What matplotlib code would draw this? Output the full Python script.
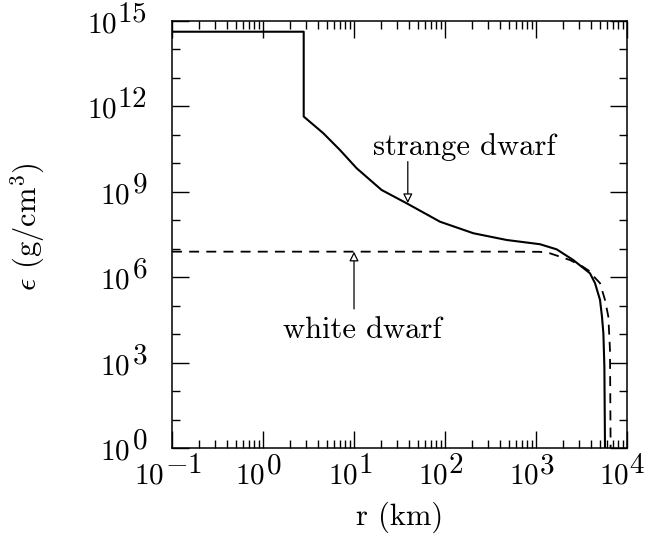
import numpy as np
import matplotlib
matplotlib.use("Agg")
import matplotlib.pyplot as plt
from matplotlib.ticker import FixedLocator, LogLocator, NullFormatter
from matplotlib.textpath import TextPath
from matplotlib.font_manager import FontProperties

plt.rcParams['font.family'] = 'serif'
plt.rcParams['font.serif'] = ['cmr10']
plt.rcParams['mathtext.fontset'] = 'cm'
plt.rcParams['axes.formatter.use_mathtext'] = True
plt.rcParams['axes.unicode_minus'] = False

# strange dwarf profile (r in km, eps in g/cm^3)
strange_r = [0.1, 2.8, 2.8, 4.6, 7.0, 10.7, 20.1, 37.9, 88.1, 205, 476, 1107,
             1690, 2570, 3920, 4450, 5050, 5310, 5500, 5640, 5730]
strange_eps = [4.2e14, 4.2e14, 4.4e11, 1.14e11, 2.95e10, 6.7e9, 1.16e9, 3.95e8,
               8.9e7, 3.5e7, 2.03e7, 1.44e7, 9.5e6, 4.0e6, 1.37e6, 6.2e5,
               1.6e5, 4.1e4, 1.07e4, 7.2e2, 1.0]

# white dwarf profile
white_r = [0.1, 1, 10, 100, 500, 1107, 1426, 2366, 3162, 3917, 4266, 5047,
           5728, 6237, 6501, 6607]
white_eps = [7.9e6, 7.9e6, 7.9e6, 7.9e6, 7.9e6, 7.8e6, 6.9e6, 4.0e6, 2.5e6,
             1.6e6, 1.1e6, 6.2e5, 1.6e5, 4.1e4, 2.75e3, 1.0]

x_major_exp = [-1, 0, 1, 2, 3, 4]
y_major_exp = [0, 3, 6, 9, 12, 15]

TICK_FS = 21
TEXT_FS = 22

fig = plt.figure(figsize=(6.45, 5.37), dpi=100)
ax = fig.add_axes([0.2667, 0.1657, 0.7054, 0.7952])

ax.plot(strange_r, strange_eps, color='black', lw=1.5)
ax.plot(white_r, white_eps, color='black', lw=1.3, dashes=(5.5, 4.0))

ax.set_xscale('log')
ax.set_yscale('log')
ax.set_xlim(0.1, 1e4)
ax.set_ylim(1, 1e15)

ax.yaxis.set_major_locator(FixedLocator([10.0**e for e in y_major_exp]))
ax.yaxis.set_minor_locator(FixedLocator([10.0**e for e in range(0, 16)]))
ax.yaxis.set_minor_formatter(NullFormatter())
ax.xaxis.set_major_locator(FixedLocator([10.0**e for e in x_major_exp]))
ax.xaxis.set_minor_locator(LogLocator(base=10, subs=np.arange(2, 10), numticks=20))
ax.xaxis.set_minor_formatter(NullFormatter())

ax.tick_params(which='both', direction='in', top=True, right=True, width=1.0,
               labelbottom=False, labelleft=False)
ax.tick_params(which='major', length=12.5)
ax.tick_params(which='minor', length=5.5)
for s in ax.spines.values():
    s.set_linewidth(1.1)

# tick labels in "10" + full-size exponent style
fp = FontProperties(family='serif', size=TICK_FS)


def text_width(s):
    return TextPath((0, 0), s, prop=fp).get_extents().width


w10 = text_width(r'$10$')
gap = 3.5
for e in y_major_exp:
    es = r'$%d$' % e
    we = text_width(es)
    ax.annotate(es, xy=(0, 10.0**e), xycoords=('axes fraction', 'data'),
                xytext=(-18, -0.5), textcoords='offset points',
                ha='right', va='baseline', fontsize=TICK_FS)
    ax.annotate(r'$10$', xy=(0, 10.0**e), xycoords=('axes fraction', 'data'),
                xytext=(-18 - we - gap, -8.2), textcoords='offset points',
                ha='right', va='baseline', fontsize=TICK_FS)

for e in x_major_exp:
    es = r'$%d$' % e
    we = text_width(es)
    total = w10 + gap + we
    left = -4.5 - total / 2
    ax.annotate(r'$10$', xy=(10.0**e, 0), xycoords=('data', 'axes fraction'),
                xytext=(left, -25.2), textcoords='offset points',
                ha='left', va='baseline', fontsize=TICK_FS)
    ax.annotate(es, xy=(10.0**e, 0), xycoords=('data', 'axes fraction'),
                xytext=(left + w10 + gap, -18.0), textcoords='offset points',
                ha='left', va='baseline', fontsize=TICK_FS)

ax.set_xlabel('r (km)', fontsize=TEXT_FS, va='baseline')
ax.xaxis.set_label_coords(0.5, -0.180)
ax.set_ylabel(r'$\epsilon$ (g/cm$^3$)', fontsize=TEXT_FS, va='center')
ax.yaxis.set_label_coords(-0.3165, 0.5176)

arrowprops = dict(arrowstyle='-|>', color='black', lw=0.9,
                  mutation_scale=14, fc='white', shrinkA=0, shrinkB=0)
ax.annotate('', xy=(39, 4.0e8), xytext=(39, 1.15e10), arrowprops=arrowprops)
ax.annotate('', xy=(10, 7.9e6), xytext=(10, 7.7e4), arrowprops=arrowprops)
ax.text(162, 3.7e10, 'strange dwarf', fontsize=TEXT_FS, ha='center', va='center')
ax.text(12.4, 1.4e4, 'white dwarf', fontsize=TEXT_FS, ha='center', va='center')

fig.savefig('out.png', dpi=100)
